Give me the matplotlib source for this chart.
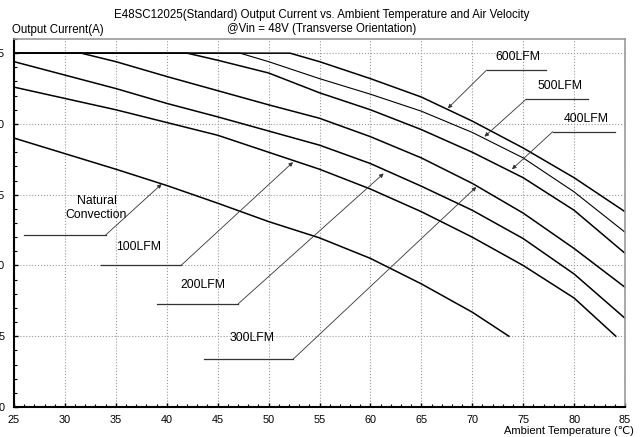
import numpy as np
import matplotlib
matplotlib.use("Agg")
import matplotlib.pyplot as plt
from matplotlib.ticker import MultipleLocator

plt.rcParams['font.family'] = ['Liberation Sans', 'DejaVu Sans']

# curvas de derating (temperatura, corrente)
nc_t = [25, 30, 35, 40, 45, 50, 55, 60, 65, 70, 73.6]
nc_i = [19.0, 17.9, 16.8, 15.65, 14.4, 13.1, 11.95, 10.5, 8.7, 6.7, 5.0]

lfm100_t = [25, 30, 35, 40, 45, 50, 55, 60, 65, 70, 75, 80, 84.1]
lfm100_i = [22.6, 21.8, 21.0, 20.1, 19.2, 18.0, 16.8, 15.4, 13.8, 12.0, 10.0, 7.7, 5.0]

lfm200_t = [25, 30, 35, 40, 45, 50, 55, 60, 65, 70, 75, 80, 85]
lfm200_i = [24.4, 23.45, 22.5, 21.45, 20.5, 19.5, 18.5, 17.2, 15.6, 13.9, 11.9, 9.4, 6.27]

lfm300_t = [25, 31.6, 35, 40, 45, 50, 55, 60, 65, 70, 75, 80, 85]
lfm300_i = [25, 25, 24.4, 23.35, 22.35, 21.35, 20.4, 19.1, 17.6, 15.8, 13.7, 11.2, 8.46]

lfm400_t = [25, 42, 45, 50, 55, 60, 65, 70, 75, 80, 85]
lfm400_i = [25, 25, 24.5, 23.6, 22.2, 21.0, 19.6, 18.0, 16.2, 13.9, 10.86]

lfm500_t = [25, 47.2, 50, 55, 60, 65, 70, 75, 80, 85]
lfm500_i = [25, 25, 24.4, 23.2, 22.1, 20.9, 19.4, 17.6, 15.2, 12.35]

lfm600_t = [25, 52.1, 55, 60, 65, 70, 75, 80, 85]
lfm600_i = [25, 25, 24.4, 23.2, 21.9, 20.2, 18.3, 16.2, 13.8]

curvas = [(nc_t, nc_i, 1.1), (lfm100_t, lfm100_i, 1.1), (lfm200_t, lfm200_i, 1.1),
          (lfm300_t, lfm300_i, 1.1), (lfm400_t, lfm400_i, 1.1),
          (lfm500_t, lfm500_i, 0.8), (lfm600_t, lfm600_i, 1.1)]

# rotulos: texto, posicao do texto, linha horizontal (x0, x1, y), ponta da seta
rotulos = [
    ("Natural\nConvection", (33.1, 14.05), (26.0, 34.0, 12.15), (39.5, 15.75)),
    ("100LFM", (37.2, 11.3), (33.5, 41.4, 10.0), (52.4, 17.3)),
    ("200LFM", (43.6, 8.6), (39.0, 47.0, 7.28), (61.3, 16.5)),
    ("300LFM", (48.4, 4.9), (43.7, 52.4, 3.37), (70.4, 15.55)),
    ("600LFM", (74.5, 24.75), (71.4, 77.2, 23.8), (67.6, 21.1)),
    ("500LFM", (78.6, 22.7), (75.3, 81.4, 21.75), (71.2, 19.1)),
    ("400LFM", (81.2, 20.35), (77.9, 84.0, 19.45), (73.9, 16.8)),
]

fig = plt.figure(figsize=(6.44, 4.37), dpi=100)
ax = fig.add_axes([14 / 644, 30 / 437, 611 / 644, 368 / 437])

for t, i, lw in curvas:
    ax.plot(t, i, color="black", linewidth=lw, solid_joinstyle="round")

for texto, pos, linha, seta in rotulos:
    x0, x1, y = linha
    ax.text(pos[0], pos[1], texto, ha="center", va="center", fontsize=8.8,
            linespacing=1.15)
    ax.plot([x0, x1], [y, y], color="#333333", linewidth=0.9)
    # a linha diagonal parte da ponta da horizontal mais perto da curva
    xs = x1 if seta[0] > x1 else x0
    ax.annotate("", xy=seta, xytext=(xs, y),
                arrowprops=dict(arrowstyle="-|>", color="#333333", lw=0.6,
                                mutation_scale=6, shrinkA=0, shrinkB=0))

ax.set_xlim(25, 85)
ax.set_ylim(0, 26)
ax.xaxis.set_major_locator(MultipleLocator(5))
ax.xaxis.set_minor_locator(MultipleLocator(1))
ax.yaxis.set_major_locator(MultipleLocator(5))
ax.yaxis.set_minor_locator(MultipleLocator(1))
ax.tick_params(which="both", direction="in", labelsize=7.8)
ax.tick_params(which="major", length=3, width=1)
ax.tick_params(which="minor", length=2, width=0.8)
ax.tick_params(axis="y", pad=7)
ax.tick_params(axis="x", pad=6)
ax.grid(True, which="major", color="#999999", linestyle=":", linewidth=0.8)

for lado in ["left", "bottom"]:
    ax.spines[lado].set_linewidth(1.5)
    ax.spines[lado].set_color("black")
for lado in ["top", "right"]:
    ax.spines[lado].set_linewidth(1.2)
    ax.spines[lado].set_color("#999999")

fig.text(0.5, 1 - 15 / 437, "E48SC12025(Standard) Output Current vs. Ambient Temperature and Air Velocity",
         ha="center", va="center", fontsize=8.3)
fig.text(0.5, 1 - 29 / 437, "@Vin = 48V (Transverse Orientation)",
         ha="center", va="center", fontsize=8.3)
fig.text(12 / 644, 1 - 30 / 437, "Output Current(A)", ha="left", va="center", fontsize=8.3)
fig.text(634 / 644, 1 - 431 / 437, "Ambient Temperature (℃)", ha="right", va="center", fontsize=8)

fig.savefig("out.png", dpi=100)
